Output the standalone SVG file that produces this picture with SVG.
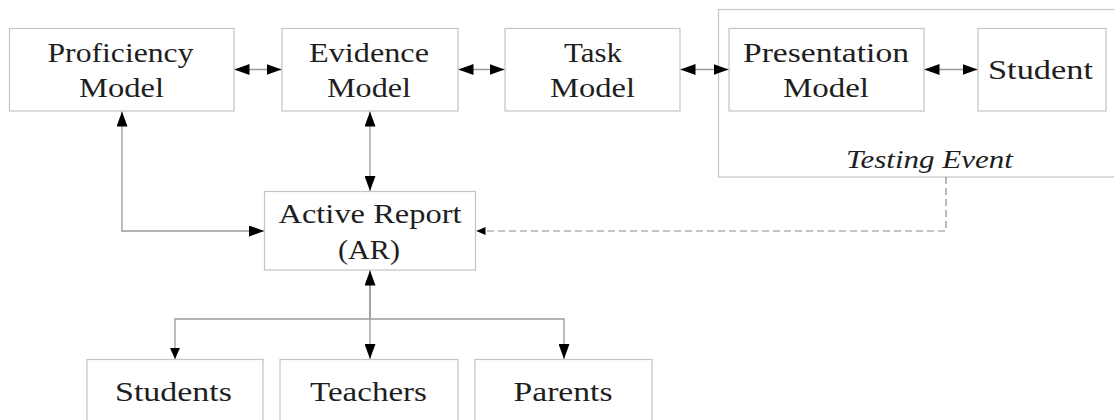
<svg xmlns="http://www.w3.org/2000/svg" width="1114" height="420" viewBox="0 0 1114 420">
  <defs>
    <style>
      .box { fill: #ffffff; stroke: #c4c4c4; stroke-width: 1.2; }
      .frame { fill: none; stroke: #c4c4c4; stroke-width: 1.2; }
      .lbl { font-family: "Liberation Serif", "Times New Roman", serif; font-size: 28px; fill: #1e1e1e; text-anchor: middle; }
      .it { font-style: italic; font-size: 26px; }
      .link { fill: none; stroke: #9a9a9a; stroke-width: 1.3; }
      .dark { stroke: #707070; }
      .dash { fill: none; stroke: #8a8a8a; stroke-width: 1.2; stroke-dasharray: 7 4; }
    </style>
    <marker id="head" viewBox="0 0 15 11" refX="15" refY="5.5" markerWidth="15" markerHeight="11" markerUnits="userSpaceOnUse" orient="auto-start-reverse">
      <path d="M0,0 L15,5.5 L0,11 z" fill="#000"/>
    </marker>
    <marker id="headSm" viewBox="0 0 11 10" refX="11" refY="5" markerWidth="11" markerHeight="10" markerUnits="userSpaceOnUse" orient="auto">
      <path d="M0,0 L11,5 L0,10 z" fill="#000"/>
    </marker>
    <marker id="headXs" viewBox="0 0 9 8" refX="9" refY="4" markerWidth="9" markerHeight="8" markerUnits="userSpaceOnUse" orient="auto">
      <path d="M0,0 L9,4 L0,8 z" fill="#000"/>
    </marker>
  </defs>

  <!-- testing event frame -->
  <g id="testing-event">
    <rect class="frame" x="718.5" y="9.5" width="420" height="167.5"/>
    <text class="lbl it" x="929.5" y="168" textLength="167" lengthAdjust="spacingAndGlyphs">Testing Event</text>
  </g>

  <g id="proficiency-model">
    <rect class="box" x="9.5" y="28.5" width="224.5" height="82.5"/>
    <text class="lbl" x="120.5" y="62" textLength="146" lengthAdjust="spacingAndGlyphs">Proficiency</text>
    <text class="lbl" x="121.5" y="96.5" textLength="85" lengthAdjust="spacingAndGlyphs">Model</text>
  </g>

  <g id="evidence-model">
    <rect class="box" x="282" y="28.5" width="176" height="82.5"/>
    <text class="lbl" x="369" y="62" textLength="120" lengthAdjust="spacingAndGlyphs">Evidence</text>
    <text class="lbl" x="369" y="96.5" textLength="84" lengthAdjust="spacingAndGlyphs">Model</text>
  </g>

  <g id="task-model">
    <rect class="box" x="505" y="28.5" width="175" height="82.5"/>
    <text class="lbl" x="593" y="62" textLength="58" lengthAdjust="spacingAndGlyphs">Task</text>
    <text class="lbl" x="592.5" y="96.5" textLength="85" lengthAdjust="spacingAndGlyphs">Model</text>
  </g>

  <g id="presentation-model">
    <rect class="box" x="729" y="28.5" width="195" height="82.5"/>
    <text class="lbl" x="826" y="62" textLength="166" lengthAdjust="spacingAndGlyphs">Presentation</text>
    <text class="lbl" x="826" y="96.5" textLength="86" lengthAdjust="spacingAndGlyphs">Model</text>
  </g>

  <g id="student">
    <rect class="box" x="978" y="28.5" width="128" height="82.5"/>
    <text class="lbl" x="1040.5" y="79" textLength="105" lengthAdjust="spacingAndGlyphs">Student</text>
  </g>

  <g id="active-report">
    <rect class="box" x="264.5" y="191.5" width="211" height="78.5"/>
    <text class="lbl" x="370" y="223" textLength="183" lengthAdjust="spacingAndGlyphs">Active Report</text>
    <text class="lbl" x="369" y="259" textLength="62" lengthAdjust="spacingAndGlyphs">(AR)</text>
  </g>

  <g id="students">
    <rect class="box" x="87" y="359.5" width="176" height="80"/>
    <text class="lbl" x="173.5" y="401" textLength="117" lengthAdjust="spacingAndGlyphs">Students</text>
  </g>

  <g id="teachers">
    <rect class="box" x="280" y="359.5" width="178" height="80"/>
    <text class="lbl" x="368.5" y="401" textLength="117" lengthAdjust="spacingAndGlyphs">Teachers</text>
  </g>

  <g id="parents">
    <rect class="box" x="475" y="359.5" width="177" height="80"/>
    <text class="lbl" x="563" y="401" textLength="99" lengthAdjust="spacingAndGlyphs">Parents</text>
  </g>

  <!-- connectors -->
  <g id="connectors">
    <!-- top row, two-way links -->
    <line class="link" x1="234.5" y1="69.5" x2="281.5" y2="69.5" marker-start="url(#head)" marker-end="url(#head)"/>
    <line class="link" x1="458.5" y1="69.5" x2="504.5" y2="69.5" marker-start="url(#head)" marker-end="url(#head)"/>
    <line class="link" x1="680.5" y1="69.5" x2="728.5" y2="69.5" marker-start="url(#head)" marker-end="url(#head)"/>
    <line class="link" x1="924.5" y1="69.5" x2="977.5" y2="69.5" marker-start="url(#head)" marker-end="url(#head)"/>

    <!-- models to active report -->
    <polyline class="link" points="122,111.5 122,231 264,231" marker-start="url(#head)" marker-end="url(#head)"/>
    <line class="link" x1="370" y1="111.5" x2="370" y2="191" marker-start="url(#head)" marker-end="url(#head)"/>

    <!-- testing event feedback -->
    <polyline class="dash" points="946,177 946,231 476.5,231" marker-end="url(#headXs)"/>

    <!-- active report to audiences -->
    <line class="link dark" x1="370" y1="319" x2="370" y2="270.5" marker-end="url(#head)"/>
    <line class="link" x1="370" y1="319" x2="370" y2="359" marker-end="url(#head)"/>
    <polyline class="link" points="370,319 175,319 175,359" marker-end="url(#headSm)"/>
    <polyline class="link" points="370,319 564,319 564,359" marker-end="url(#head)"/>
  </g>
</svg>
